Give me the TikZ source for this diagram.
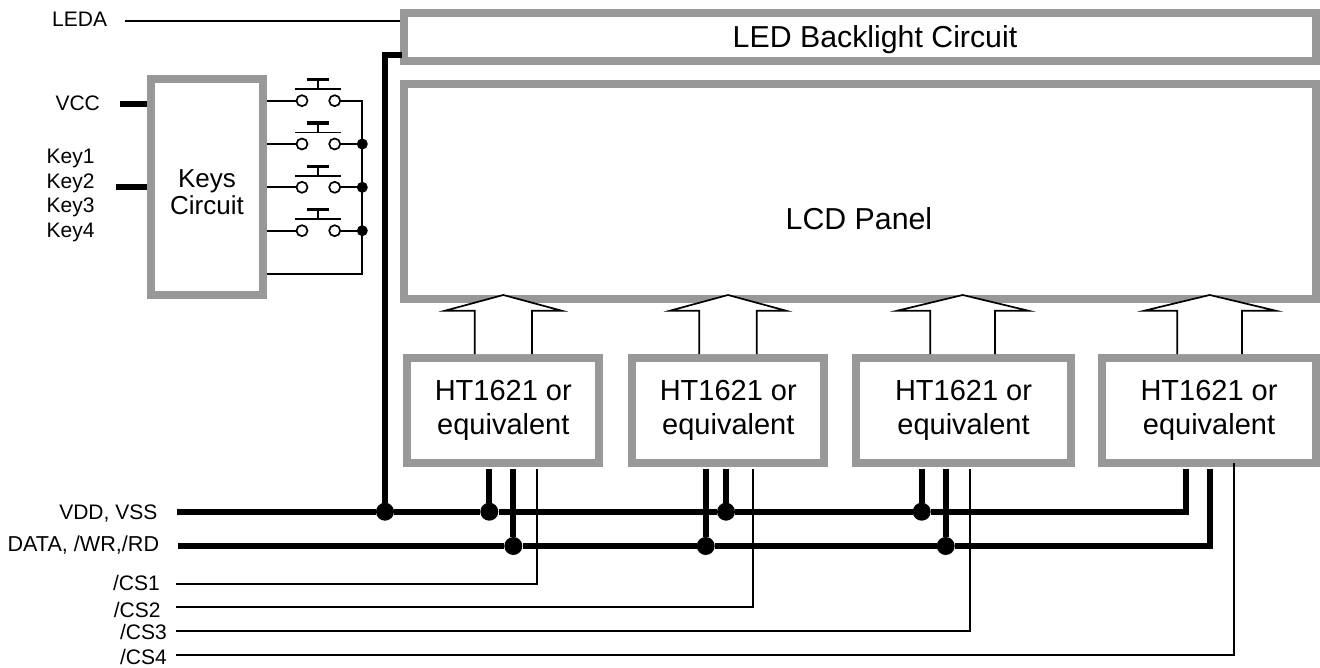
\documentclass[tikz,border=0pt]{standalone}
\usepackage{fontspec}
\setmainfont{Liberation Sans}
\begin{document}
\begin{tikzpicture}[x=1pt,y=-1pt,
  box/.style={draw=boxgray,line width=8pt,rectangle,inner sep=0pt,fill=white},
  wire/.style={line width=1.7pt,black},
  bus/.style={line width=6pt,black,line join=miter},
  jdot/.style={circle,fill=black,draw=none,minimum size=18pt,inner sep=0pt},
  kdot/.style={circle,fill=black,draw=none,minimum size=11pt,inner sep=0pt},
  contact/.style={circle,draw=black,line width=1.7pt,fill=white,minimum size=11pt,inner sep=0pt},
  lbl/.style={font=\fontsize{21}{24.4}\selectfont,inner sep=0pt},
  bigt/.style={font=\fontsize{29}{33.5}\selectfont,align=center,inner sep=0pt},
  panelt/.style={font=\fontsize{30.3}{34}\selectfont,inner sep=0pt},
  keyt/.style={font=\fontsize{26}{27}\selectfont,align=center,inner sep=0pt},
  bigarrow/.style={wire,line join=miter,fill=white}
]
\definecolor{boxgray}{HTML}{989898}
\useasboundingbox (0,0) rectangle (1320,668);
% boxes
\node[box,minimum width=912.5pt,minimum height=48pt] (led) at (859.75,37) {};
\node[panelt] (ledt) at (875,40) {LED Backlight Circuit};
\node[box,minimum width=912.5pt,minimum height=215pt] (lcd) at (859.75,191.5) {};
\node[panelt] (lcdt) at (859,219) {LCD Panel};
\node[box,minimum width=112pt,minimum height=216pt] (keys) at (207,187.5) {};
\node[keyt] (keyst) at (207,192) {Keys\\Circuit};
\node[box,minimum width=192pt,minimum height=105pt,bigt] (b1) at (503.3,410.5) {HT1621 or\\equivalent};
\node[box,minimum width=192pt,minimum height=105pt,bigt] (b2) at (728.3,410.5) {HT1621 or\\equivalent};
\node[box,minimum width=215pt,minimum height=105pt,bigt] (b3) at (963.5,410.5) {HT1621 or\\equivalent};
\node[box,minimum width=214pt,minimum height=105pt,bigt] (b4) at (1209,410.5) {HT1621 or\\equivalent};
% labels
\node[lbl,anchor=base west] (ledal) at (52,26.7) {LEDA};
\node[lbl,anchor=base west] (vccl) at (55.3,110.5) {VCC};
\node[lbl,anchor=west,align=left] (keyl) at (46.5,195.5) {Key1\\Key2\\Key3\\Key4};
\node[lbl,anchor=base east] (vddl) at (157.5,519) {VDD, VSS};
\node[lbl,anchor=base east,font=\fontsize{21.6}{24}\selectfont] (datal) at (159.3,551.7) {DATA, /WR,/RD};
\node[lbl,anchor=base east] (cs1l) at (160,590.7) {/CS1};
\node[lbl,anchor=base east] (cs2l) at (160.7,617.3) {/CS2};
\node[lbl,anchor=base east] (cs3l) at (167,639.3) {/CS3};
\node[lbl,anchor=base east] (cs4l) at (167,664) {/CS4};
% free ends
\coordinate (ledaS) at (125,21.3);
\coordinate (ledaE) at (399.5,21.3);
\coordinate (vccS) at (120,103.7);
\coordinate (keyS) at (116,187.3);
\coordinate (vddS) at (177,511.7);
\coordinate (dataS) at (178,546);
\coordinate (cs1S) at (176,583.7);
\coordinate (cs2S) at (176,607.3);
\coordinate (cs3S) at (176,631.3);
\coordinate (cs4S) at (176,655);
\coordinate (ledin) at (401.7,55);
% top wires
\draw[wire] (ledaS) -- (ledaE);
\draw[bus] (vccS) -- (vccS -| keys.west);
\draw[bus] (keyS) -- (keyS -| keys.west);
% switches
\foreach \n/\y in {1/100.7,2/144,3/187.3,4/230.7}{
  \node[contact] (cl\n) at (302,\y) {};
  \node[contact] (cr\n) at (334.7,\y) {};
  \coordinate (sw\n) at (318,\y-11.4);
  \coordinate (st\n) at (318,\y-21);
  \draw[wire] (keys.east |- cl\n) -- (cl\n);
  \draw[wire] (sw\n) ++(-23,0) -- ++(46,0);
  \draw[wire] (sw\n) -- (st\n);
  \draw[line width=3.5pt] (st\n) ++(-11,0) -- ++(22,0);
}
\coordinate (rail) at (362.3,274);
\draw[wire,line join=miter] (cr1) -| (rail) -- (rail -| keys.east);
\foreach \n in {2,3,4}{
  \node[kdot] (k\n) at (rail |- cl\n) {};
  \draw[wire] (cr\n) -- (k\n);
}
% big arrows
\foreach \b/\tx/\wl/\wr/\sl/\sr in {b1/503.3/445/561.7/474.7/532,b2/728/670/786/699.3/756.7,b3/962.7/897.3/1028.3/930.3/995,b4/1209.7/1144.3/1275.7/1177.3/1242}{
  \draw[bigarrow] (\sl,354) -- (\sl,310.7) -- (\wl,310.7) -- (\tx,295) -- (\wr,310.7) -- (\sr,310.7) -- (\sr,354);
}
% bus junctions
\node[jdot] (j0) at (385,511.7) {};
\node[jdot] (v1) at (489.3,511.7) {};
\node[jdot] (v2) at (726,511.7) {};
\node[jdot] (v3) at (921.7,511.7) {};
\node[jdot] (d1) at (513.3,546) {};
\node[jdot] (d2) at (705.7,546) {};
\node[jdot] (d3) at (945.7,546) {};
\coordinate (vc) at (1186,511.7);
\coordinate (dc) at (1209.7,546);
\draw[bus,shorten >=2pt] (vddS) -- (j0) -- (v1) -- (v2) -- (v3) -- (vc) -- (vc |- b4.south);
\draw[bus,shorten >=2pt] (dataS) -- (d1) -- (d2) -- (d3) -- (dc) -- (dc |- b4.south);
\foreach \j/\b in {v1/b1,v2/b2,v3/b3,d1/b1,d2/b2,d3/b3}{
  \draw[bus,shorten >=2pt] (\j) -- (\j |- \b.south);
}
\draw[bus] (j0) |- (ledin);
% chip selects
\foreach \n/\x in {1/537.3,2/753.3,3/969.7,4/1233.7}{
  \coordinate (cst\n) at (\x,600);
}
\foreach \n in {1,2,3}{
  \draw[wire,line join=miter,shorten >=2pt] (cs\n S) -| (cst\n |- b\n.south);
}
\draw[wire,line join=miter,shorten >=-4pt] (cs4S) -| (cst4 |- b4.south);
\end{tikzpicture}
\end{document}
